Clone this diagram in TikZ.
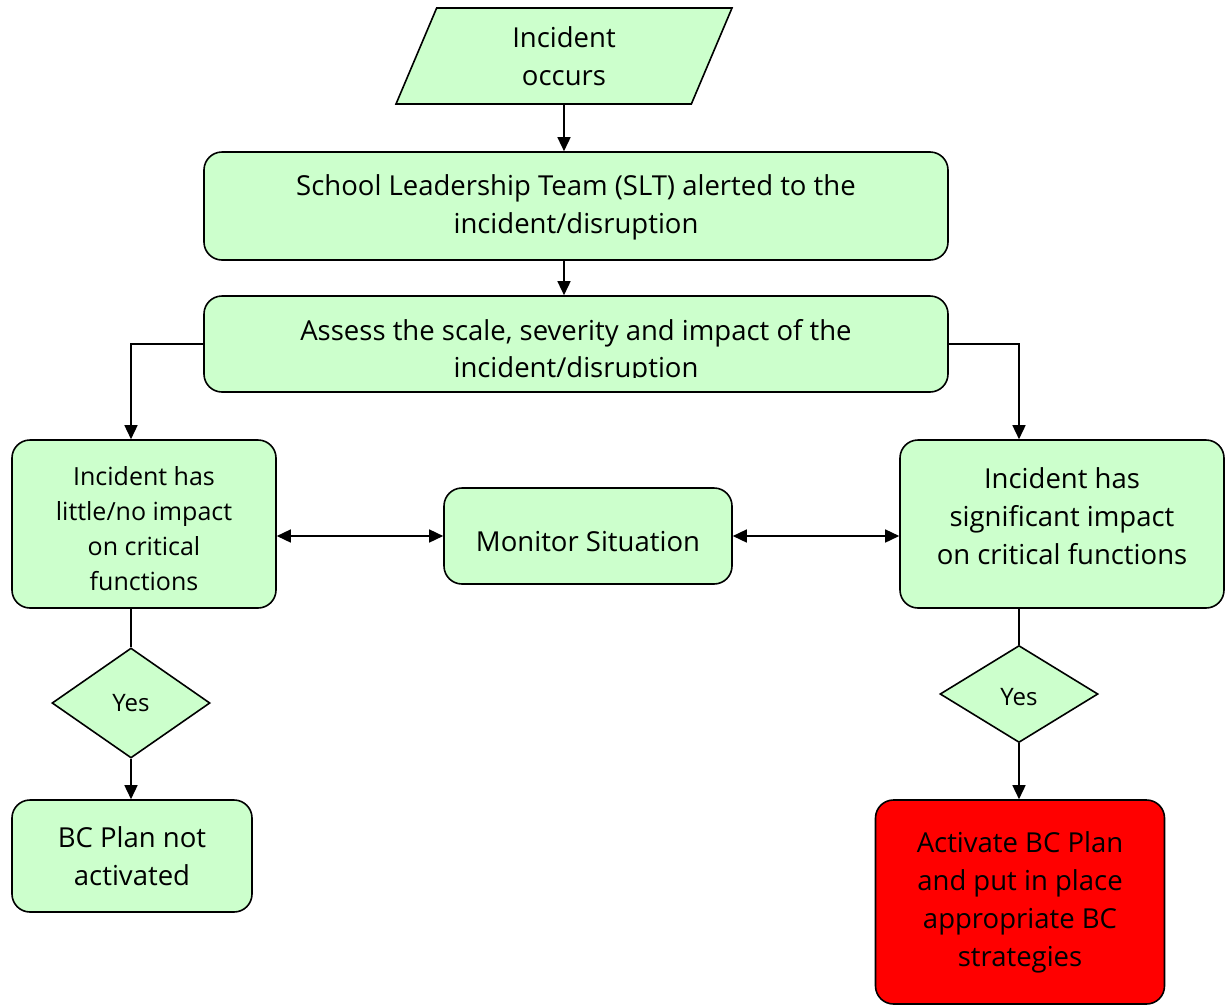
\documentclass[tikz,border=0pt]{standalone}
\usepackage{fontspec}
\setmainfont{Open Sans}
\usetikzlibrary{arrows.meta,shapes.geometric}

\definecolor{boxgreen}{HTML}{CCFFCC}
\definecolor{alertred}{HTML}{FF0000}

\tikzset{
  base/.style={draw=black, line width=1.6pt, fill=boxgreen, align=center,
    inner sep=0pt, font=\fontsize{27.5}{38}\selectfont},
  stepbox/.style={base, rectangle, rounded corners=18pt},
  choice/.style={base, diamond, font=\fontsize{24}{28}\selectfont},
  arr/.style={line width=1.5pt, -{Triangle[length=14pt,width=13pt]}},
  dbl/.style={line width=1.5pt, {Triangle[length=14pt,width=13pt]}-{Triangle[length=14pt,width=13pt]}},
  link/.style={line width=1.5pt}
}

\begin{document}
\begin{tikzpicture}[x=1pt, y=-1pt]
  \useasboundingbox (0,0) rectangle (1225,1004);

  % start
  \node[base, trapezium, trapezium left angle=55.5, trapezium right angle=124.5,
        trapezium stretches body, minimum width=336pt, minimum height=96pt]
        (occurs) at (564,56) {Incident\\occurs};

  % leadership
  \node[stepbox, minimum width=744pt, minimum height=108pt]
        (slt) at (576,206) {\rule{0pt}{24pt}School Leadership Team (SLT) alerted to the\\incident/disruption};

  % assessment (text cut off at the box bottom)
  \node[stepbox, minimum width=744pt, minimum height=96pt] (assess) at (576,344) {};
  \begin{scope}
    \clip (204,296) rectangle (948,377);
    \node[align=center, font=\fontsize{27.5}{37}\selectfont]
          (assesstxt) at (576,352) {Assess the scale, severity and impact of the\\incident/disruption};
  \end{scope}

  % outcomes
  \node[stepbox, minimum width=264pt, minimum height=168pt,
        font=\fontsize{25}{35}\selectfont]
        (little) at (144,524) {\rule{0pt}{28pt}Incident has\\little/no impact\\on critical\\functions};
  \node[stepbox, minimum width=288pt, minimum height=96pt]
        (monitor) at (588,536) {\rule{0pt}{32pt}Monitor Situation};
  \node[stepbox, minimum width=324pt, minimum height=168pt]
        (signif) at (1062,524) {Incident has\\significant impact\\on critical functions\rule[-16pt]{0pt}{0pt}};

  % decisions
  \node[choice, minimum width=158pt, minimum height=110pt] (yesl) at (131,703) {Yes};
  \node[choice, minimum width=158pt, minimum height=97pt] (yesr) at (1019,694) {\rule{0pt}{24pt}Yes};

  % results
  \node[stepbox, minimum width=240pt, minimum height=112pt]
        (notact) at (132,856) {BC Plan not\\activated};
  \node[stepbox, fill=alertred, minimum width=289pt, minimum height=204pt]
        (activate) at (1020,902) {Activate BC Plan\\and put in place\\appropriate BC\\strategies\rule[-4pt]{0pt}{0pt}};

  % connectors
  \draw[arr] (occurs.south) -- (occurs.south |- slt.north);
  \draw[arr] (slt.south -| occurs.south) -- (assess.north -| occurs.south);
  \draw[arr] (assess.west) -| (yesl.north |- little.north);
  \draw[arr] (assess.east) -| (yesr.north |- signif.north);
  \draw[dbl] (monitor.west -| little.east) -- (monitor.west);
  \draw[dbl] (monitor.east) -- (monitor.east -| signif.west);
  \draw[link] (yesl.north |- little.south) -- (yesl.north);
  \draw[link] (yesr.north |- signif.south) -- (yesr.north);
  \draw[arr] (yesl.south) -- (yesl.south |- notact.north);
  \draw[arr] (yesr.south) -- (yesr.south |- activate.north);
\end{tikzpicture}
\end{document}
